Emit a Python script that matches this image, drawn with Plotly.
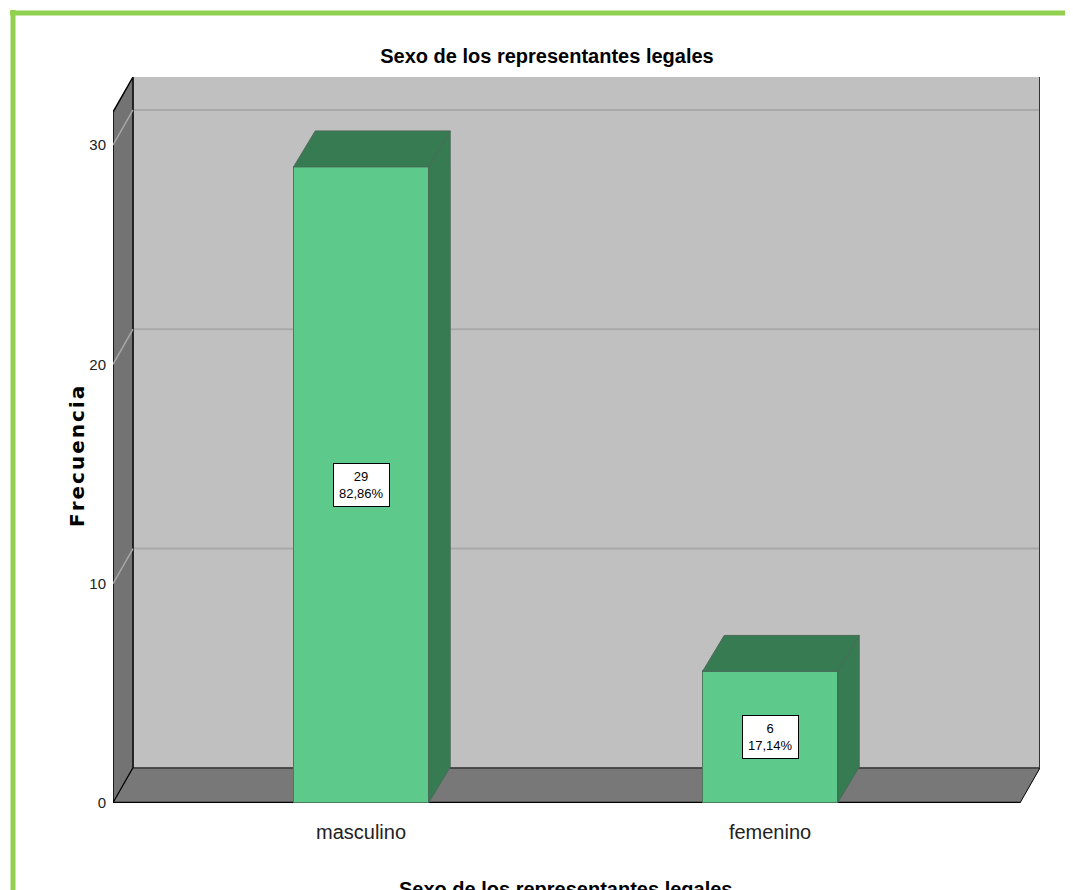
import plotly.graph_objects as go

# ---------------------------------------------------------
# data
# ---------------------------------------------------------
categories = ["masculino", "femenino"]
counts = [29, 6]
y_ticks = [0, 10, 20, 30]

total = sum(counts)
percents = [c / total * 100 for c in counts]

# ---------------------------------------------------------
# geometry / style
# ---------------------------------------------------------
OFF = 8                       # page body margin
W, H = 1073 - OFF, 890 - OFF
ML, MR, MT, MB = 105, 33, 69, 87
X_RANGE = [-0.6064, 1.660]
Y_RANGE = [0, 33.1]

WALL_DX, WALL_DY = 0.049, 1.6     # depth of floor / left wall
BAR_DX, BAR_DY = 0.053, 1.64      # depth of the bars
BAR_W = 0.33

FRONT = "#5DC98A"
DARK = "#377B53"
BACK_WALL = "#C0C0C0"
SIDE_WALL = "#737373"
FLOOR = "#787878"
GRID = "#A8A8A8"
BORDER = "#92D050"

FONT = "Liberation Sans, Arial, sans-serif"

pw, ph = W - ML - MR, H - MT - MB


def px(xp):
    # reference pixel -> paper x
    return (xp - OFF - ML) / pw


def py(yp):
    # reference pixel -> paper y
    return (H - MB - (yp - OFF)) / ph


fig = go.Figure()

# ---------------------------------------------------------
# 3D box: back wall, grid, left wall, floor
# ---------------------------------------------------------
x0, x1 = X_RANGE
y1 = Y_RANGE[1]
shapes = []

shapes.append(dict(type="rect", xref="x", yref="y", layer="below",
                   x0=x0 + WALL_DX, x1=x1, y0=WALL_DY, y1=y1,
                   fillcolor=BACK_WALL, line=dict(width=0)))

for v in y_ticks[1:]:
    shapes.append(dict(type="line", xref="x", yref="y", layer="below",
                       x0=x0 + WALL_DX, x1=x1, y0=v + WALL_DY, y1=v + WALL_DY,
                       line=dict(color=GRID, width=2)))

# left wall
shapes.append(dict(type="path", xref="x", yref="y", layer="below",
                   path=(f"M {x0},0 L {x0 + WALL_DX},{WALL_DY} "
                         f"L {x0 + WALL_DX},{y1} L {x0},{y1 - WALL_DY} Z"),
                   fillcolor=SIDE_WALL, line=dict(color="black", width=1.5)))

for v in y_ticks[1:]:
    shapes.append(dict(type="line", xref="x", yref="y", layer="below",
                       x0=x0, x1=x0 + WALL_DX, y0=v, y1=v + WALL_DY,
                       line=dict(color=GRID, width=1.5)))

# floor
shapes.append(dict(type="path", xref="x", yref="y", layer="below",
                   path=(f"M {x0},0 L {x0 + WALL_DX},{WALL_DY} "
                         f"L {x1},{WALL_DY} L {x1 - WALL_DX},0 Z"),
                   fillcolor=FLOOR, line=dict(color="black", width=1)))

shapes.append(dict(type="line", xref="x", yref="y", layer="below",
                   x0=x0, x1=x1 - WALL_DX, y0=0, y1=0,
                   line=dict(color="black", width=2.5)))

# right edge of back wall
shapes.append(dict(type="line", xref="x", yref="y", layer="below",
                   x0=x1, x1=x1, y0=WALL_DY, y1=y1,
                   line=dict(color="#333333", width=2)))

# green frame of the picture
shapes.append(dict(type="line", xref="paper", yref="paper",
                   x0=px(10), x1=px(1080), y0=py(13), y1=py(13),
                   line=dict(color=BORDER, width=5)))
shapes.append(dict(type="line", xref="paper", yref="paper",
                   x0=px(13), x1=px(13), y0=py(10), y1=py(900),
                   line=dict(color=BORDER, width=5)))

# ---------------------------------------------------------
# bars
# ---------------------------------------------------------
for i, (cat, v) in enumerate(zip(categories, counts)):
    xl, xr = i - BAR_W / 2, i + BAR_W / 2

    # side face
    fig.add_trace(go.Scatter(
        x=[xr, xr + BAR_DX, xr + BAR_DX, xr, xr],
        y=[0, BAR_DY, v + BAR_DY, v, 0],
        fill="toself", fillcolor=DARK, mode="lines",
        line=dict(color="#4a6a58", width=1), hoverinfo="skip",
        showlegend=False))

    # top face
    fig.add_trace(go.Scatter(
        x=[xl, xl + BAR_DX, xr + BAR_DX, xr, xl],
        y=[v, v + BAR_DY, v + BAR_DY, v, v],
        fill="toself", fillcolor=DARK, mode="lines",
        line=dict(color="#4a6a58", width=1), hoverinfo="skip",
        showlegend=False))

fig.add_trace(go.Bar(
    x=list(range(len(categories))),
    y=counts,
    width=BAR_W,
    marker=dict(color=FRONT, line=dict(color="#4a7a5c", width=1)),
    showlegend=False,
    hoverinfo="skip"
))

# value labels
annotations = []
for i, (v, p) in enumerate(zip(counts, percents)):
    annotations.append(dict(
        x=i, y=v / 2, xref="x", yref="y",
        text=f"{v}<br>{p:.2f}%".replace(".", ","),
        showarrow=False, align="center",
        bgcolor="white", bordercolor="black", borderwidth=1, borderpad=5,
        font=dict(family=FONT, size=13, color="black")))

# y axis title (slightly letter-spaced like the original)
annotations.append(dict(
    x=px(63), y=py(457), xref="paper", yref="paper",
    text="<b>" + "\u200a".join("Frecuencia") + "</b>",
    textangle=-90, showarrow=False,
    font=dict(family="DejaVu Sans, sans-serif", size=20, color="black")))

# x axis title, cut by the lower edge as in the original
annotations.append(dict(
    x=px(566), y=py(876), xref="paper", yref="paper", yanchor="top",
    text="<b>Sexo de los representantes legales</b>", showarrow=False,
    font=dict(family=FONT, size=20, color="black")))

fig.update_layout(
    width=W, height=H,
    margin=dict(l=ML, r=MR, t=MT, b=MB),
    paper_bgcolor="white",
    plot_bgcolor="white",
    title=dict(text="<b>Sexo de los representantes legales</b>",
               x=(547 - OFF) / W, xref="container", xanchor="center",
               y=1 - (56 - OFF) / H, yref="container", yanchor="middle",
               font=dict(family=FONT, size=20, color="black")),
    shapes=shapes,
    annotations=annotations,
    bargap=0,
    xaxis=dict(range=X_RANGE, tickvals=list(range(len(categories))),
               ticktext=categories, showgrid=False, zeroline=False,
               showline=False, ticks="outside", ticklen=11,
               tickcolor="rgba(0,0,0,0)",
               tickfont=dict(family=FONT, size=20, color="#222222")),
    yaxis=dict(range=Y_RANGE, tickvals=y_ticks, showgrid=False,
               zeroline=False, showline=False, ticks="outside", ticklen=3,
               tickcolor="rgba(0,0,0,0)",
               tickfont=dict(family=FONT, size=15, color="#222222")),
)

fig.write_html("out.html")
